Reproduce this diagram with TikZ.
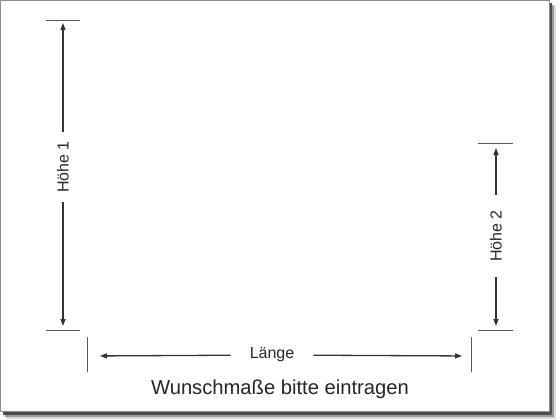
\documentclass[tikz,border=0pt]{standalone}
\usepackage{fontspec}
\setmainfont{Liberation Sans}
\usetikzlibrary{positioning,arrows.meta}

\tikzset{
    dimline/.style={draw=black!80, line width=1.3pt, -{Triangle[length=7pt,width=5pt]}},
    tickline/.style={draw=black!65, line width=0.9pt},
    dimlabel/.style={font=\fontsize{16}{18}\selectfont, text=black!85, inner ysep=2pt},
}

\begin{document}
\begin{tikzpicture}[x=1pt,y=-1pt]
    \useasboundingbox (0,0) rectangle (560,420);
    % Frame with shadow
    \fill[black!15] (6,6) rectangle (556,419);
    \fill[black!40] (5,5) rectangle (554,417);
    \fill[black!70] (3,3) rectangle (552,415);
    \filldraw[fill=white, draw=black!45, line width=1pt] (0.5,0.5) rectangle (549,411);

    % Hoehe 1
    \coordinate (h1top) at (63,20);
    \coordinate (h1bot) at (63,330);
    \draw[tickline] (46,20) -- (80,20);
    \draw[tickline] (46,330) -- (80,330);
    \node[dimlabel, rotate=90, inner xsep=9pt] (h1label) at (63,167) {Höhe 1};
    \draw[dimline, shorten >=3pt] (h1label) -- (h1top);
    \draw[dimline, shorten >=4pt] (h1label) -- (h1bot);

    % Hoehe 2
    \coordinate (h2top) at (496,143);
    \coordinate (h2bot) at (496,330);
    \draw[tickline] (478,143) -- (513,143);
    \draw[tickline] (478,330) -- (513,330);
    \node[dimlabel, rotate=90, inner xsep=15pt] (h2label) at (496,236) {Höhe 2};
    \draw[dimline, shorten >=5pt] (h2label) -- (h2top);
    \draw[dimline, shorten >=4pt] (h2label) -- (h2bot);

    % Laenge
    \coordinate (lleft) at (87,356);
    \coordinate (lright) at (471,356);
    \draw[tickline] (87,337) -- (87,372);
    \draw[tickline] (471,337) -- (471,372);
    \node[dimlabel, inner xsep=19pt] (llabel) at (272,355) {Länge};
    \draw[dimline, shorten >=13pt] (llabel) -- (lleft);
    \draw[dimline, shorten >=9pt] (llabel) -- (lright);

    % Caption
    \node[font=\fontsize{20.2}{23}\selectfont, text=black!85] (caption) at (280,389) {Wunschmaße bitte eintragen};
\end{tikzpicture}
\end{document}
